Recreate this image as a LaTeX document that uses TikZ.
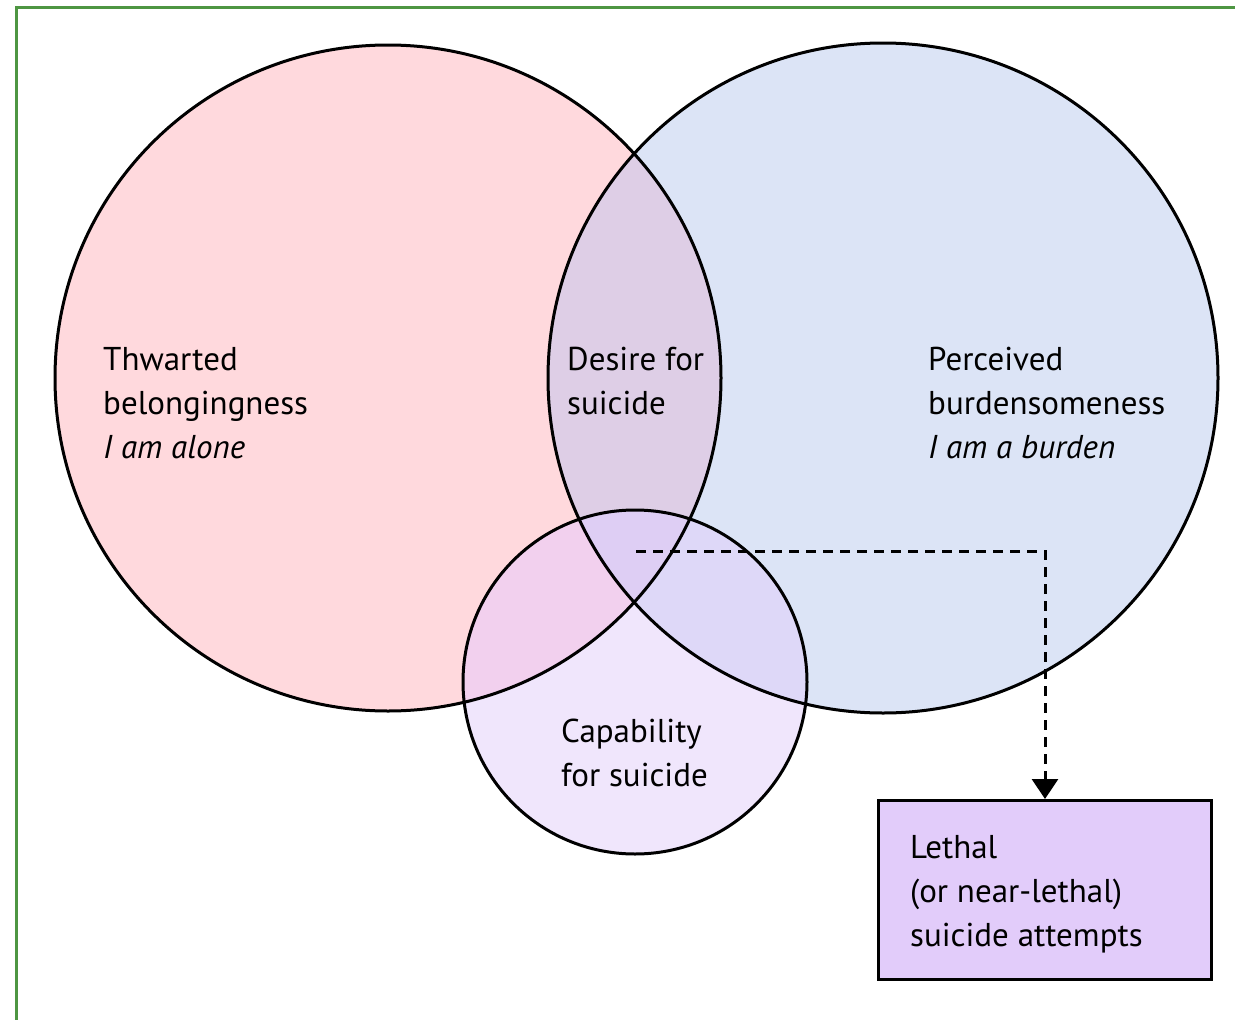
\documentclass[tikz,border=0pt]{standalone}
\usepackage{fontspec}
\setmainfont{PT Sans}
\usetikzlibrary{arrows.meta}
\definecolor{pinkfill}{RGB}{255,217,221}
\definecolor{bluefill}{RGB}{220,228,246}
\definecolor{smallfill}{RGB}{240,230,252}
\definecolor{pbfill}{RGB}{222,206,230}
\definecolor{psfill}{RGB}{242,208,238}
\definecolor{bsfill}{RGB}{222,216,248}
\definecolor{pbsfill}{RGB}{222,206,244}
\definecolor{boxfill}{RGB}{226,204,250}
\definecolor{framegreen}{RGB}{78,150,66}
\tikzset{
  outline/.style={draw=black, line width=3pt},
  lbl/.style={anchor=base west, inner sep=0pt, font=\fontsize{33}{44}\selectfont},
  outcome/.style={draw=black, line width=3pt, fill=boxfill, minimum width=333pt, minimum height=179pt, inner sep=0pt},
  flow/.style={line width=3pt, dash pattern=on 10pt off 7pt, -{Triangle[length=20pt,width=26pt]}}
}
\newcommand{\lines}[1]{\begin{tabular}[t]{@{}l@{}}#1\end{tabular}}
\begin{document}
\begin{tikzpicture}[x=1pt,y=-1pt]
\useasboundingbox (0,0) rectangle (1235,1020);
\fill[white] (0,0) rectangle (1235,1020);
\draw[framegreen, line width=3pt] (16,1020) -- (16,7) -- (1235,7);

\coordinate (P) at (388,378);
\coordinate (B) at (883,378);
\coordinate (S) at (635,682);

% region fills
\fill[pinkfill] (P) circle[radius=333pt];
\fill[bluefill] (B) circle[radius=335pt];
\fill[smallfill] (S) circle[radius=172pt];
\begin{scope}
  \clip (B) circle[radius=335pt];
  \fill[bsfill] (S) circle[radius=172pt];
\end{scope}
\begin{scope}
  \clip (P) circle[radius=333pt];
  \fill[pbfill] (B) circle[radius=335pt];
  \fill[psfill] (S) circle[radius=172pt];
  \clip (B) circle[radius=335pt];
  \fill[pbsfill] (S) circle[radius=172pt];
\end{scope}

% outlines
\draw[outline] (P) circle[radius=333pt];
\draw[outline] (B) circle[radius=335pt];
\draw[outline] (S) circle[radius=172pt];

% labels
\node[lbl] (thwarted) at (103,370) {\lines{Thwarted\\belongingness\\\textit{I am alone}}};
\node[lbl] (desire) at (567,370) {\lines{Desire for\\suicide}};
\node[lbl] (perceived) at (928,370) {\lines{Perceived\\burdensomeness\\\textit{I am a burden}}};
\node[lbl] (capability) at (561,742) {\lines{Capability\\for suicide}};

% outcome box
\node[outcome] (lethal) at (1045,890) {};
\node[lbl] (lethaltext) at (910,858) {\lines{Lethal\\(or near-lethal)\\suicide attempts}};

\coordinate (dstart) at (636,551);
\draw[flow] (dstart) -| (lethal.north);
\end{tikzpicture}
\end{document}
